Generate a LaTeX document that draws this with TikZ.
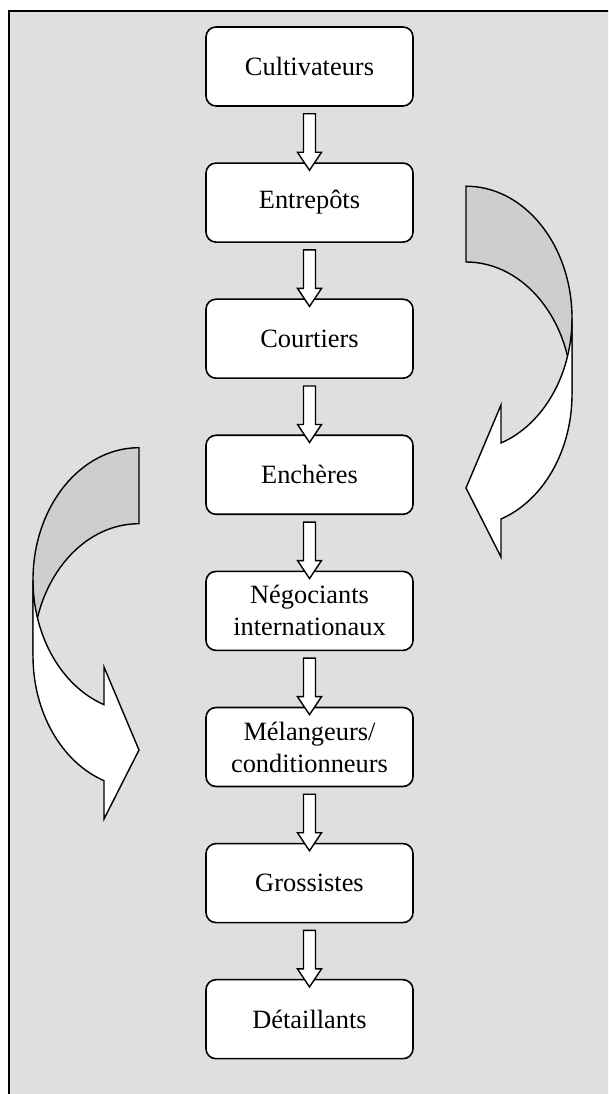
\documentclass[tikz,border=0pt]{standalone}
\usepackage{fontspec}
\setmainfont{Liberation Serif}
\usetikzlibrary{calc}
\definecolor{bggray}{RGB}{223,223,223}
\definecolor{backgray}{RGB}{206,206,206}
\begin{document}
\begin{tikzpicture}[x=1pt,y=1pt,
  stagebox/.style={draw=black, line width=1.6pt, fill=white, rounded corners=10pt,
    minimum width=207pt, minimum height=79pt, align=center, inner sep=2pt,
    font=\fontsize{26.4}{32}\selectfont},
  blockarrow/.style={draw=black, line width=1.4pt, fill=white, line join=miter},
  curveback/.style={draw=black, line width=1.4pt, fill=backgray},
  curvefront/.style={draw=black, line width=1.4pt, fill=white, line join=miter}]
\useasboundingbox (0,0) rectangle (608,1094);
\clip (0,0) rectangle (608,1094);
% frame
\fill[bggray] (9,-20) rectangle (630,1083);
\draw[line width=2pt] (9,-20) -- (9,1083) -- (630,1083);

% stages
\node[stagebox] (b1) at (309.5,1027.5) {Cultivateurs};
\node[stagebox] (b2) at (309.5,891.4) {Entrepôts};
\node[stagebox] (b3) at (309.5,755.3) {Courtiers};
\node[stagebox] (b4) at (309.5,619.2) {Enchères};
\node[stagebox] (b5) at (309.5,483.1) {Négociants\\internationaux};
\node[stagebox] (b6) at (309.5,347.0) {Mélangeurs/\\conditionneurs};
\node[stagebox] (b7) at (309.5,210.9) {Grossistes};
\node[stagebox] (b8) at (309.5,74.8) {Détaillants};

% block arrows
\foreach \a/\b in {b1/b2,b2/b3,b3/b4,b4/b5,b5/b6,b6/b7,b7/b8}{
  \draw[blockarrow] ($(\a.south)+(-6,-7)$) -- ($(\b.north)+(-6,10)$) -- ($(\b.north)+(-12,10)$)
    -- ($(\b.north)+(0,-8)$) -- ($(\b.north)+(12,10)$) -- ($(\b.north)+(6,10)$)
    -- ($(\a.south)+(6,-7)$) -- cycle;
}

% right curved arrow
\coordinate (rtail) at (466,907.8);
\draw[curveback] (rtail) arc[start angle=90, end angle=0, x radius=106pt, y radius=132.2pt]
  -- (572,699.8) arc[start angle=0, end angle=90, x radius=106pt, y radius=132.2pt] -- cycle;
\coordinate (rfront) at (572,775.8);
\draw[curvefront] (rfront) arc[start angle=0, end angle=-70.72, x radius=106pt, y radius=132.2pt]
  -- (501,689) -- (466,606) -- (501,537) -- (501,575)
  arc[start angle=-70.72, end angle=0, x radius=106pt, y radius=132.2pt] -- cycle;

% left curved arrow
\coordinate (ltail) at (139,646.3);
\draw[curveback] (ltail) arc[start angle=90, end angle=180, x radius=106pt, y radius=132.2pt]
  -- (33,438.1) arc[start angle=180, end angle=90, x radius=106pt, y radius=132.2pt] -- cycle;
\coordinate (lfront) at (33,514.1);
\draw[curvefront] (lfront) arc[start angle=180, end angle=250.72, x radius=106pt, y radius=132.2pt]
  -- (104,427) -- (139,344) -- (104,275) -- (104,313.3)
  arc[start angle=250.72, end angle=180, x radius=106pt, y radius=132.2pt] -- cycle;
\end{tikzpicture}
\end{document}
